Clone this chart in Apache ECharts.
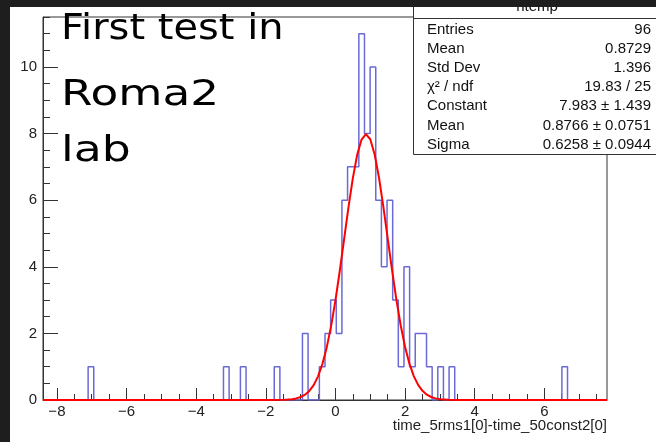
<!DOCTYPE html>
<html><head><meta charset="utf-8">
<script src="https://cdn.jsdelivr.net/npm/echarts@6/dist/echarts.min.js"></script>
<style>html,body{margin:0;padding:0;background:#1e1e1e;}#c{width:656px;height:442px;}</style>
</head><body><div id="c"></div>
<script>
// ---- data ----
const xMin = -8.4, xMax = 7.8, binWidth = 0.162;
const counts = [
  0,0,0,0,0,0,0,0,1,0,
  0,0,0,0,0,0,0,0,0,0,
  0,0,0,0,0,0,0,0,0,0,
  0,0,1,0,0,1,0,0,0,0,
  0,1,0,0,0,0,2,0,0,1,
  2,3,2,6,7,7,11,8,10,6,
  4,6,3,1,4,1,2,2,1,0,
  1,0,1,0,0,0,0,0,0,0,
  0,0,0,0,0,0,0,0,0,0,
  0,0,1,0,0,0,0,0,0,0
];
// red fit curve
const fitX = [-8.4,-2.0,-1.5,-1.375,-1.25,-1.125,-1.0,-0.875,-0.75,-0.625,-0.5,-0.375,-0.25,-0.125,0,0.125,0.25,0.375,0.5,0.625,0.75,0.875,1.0,1.125,1.25,1.375,1.5,1.625,1.75,1.875,2.0,2.125,2.25,2.375,2.5,2.625,2.75,2.875,3.0,3.25,3.5,7.8];
const fitY = [0,0,0.006,0.012,0.025,0.048,0.089,0.159,0.272,0.448,0.710,1.080,1.580,2.219,2.993,3.881,4.835,5.790,6.661,7.364,7.821,7.983,7.829,7.379,6.681,5.813,4.860,3.905,3.014,2.236,1.593,1.091,0.718,0.454,0.276,0.161,0.090,0.049,0.025,0.006,0.001,0];
const xTickLabels = [-8,-6,-4,-2,0,2,4,6];
const yTickLabels = [0,2,4,6,8,10];
const histTitle = 'htemp';
const statNames = ['Entries','Mean','Std Dev','\u03C7\u00B2 / ndf','Constant','Mean','Sigma'];
const statValues = ['96','0.8729','1.396','19.83 / 25','7.983 \u00B1 1.439','0.8766 \u00B1 0.0751','0.6258 \u00B1 0.0944'];
const xTitle = 'time_5rms1[0]-time_50const2[0]';
const overlayLines = ['First test in','Roma2','lab'];

// ---- build ----
const histData = counts.map((c,k)=>[xMin + k*binWidth, c]);
histData.push([xMax, counts[counts.length-1]]);
const fitData = fitX.map((x,i)=>[x, fitY[i]]);
const xMinor = []; for (let v=-8; v<=7.5; v+=0.5) xMinor.push(v);
const yMinor = []; for (let v=0; v<=11.5; v+=0.5) yMinor.push(v);

const FONT = 'Liberation Sans, Arial, sans-serif';
const W = 656, H = 442;
const G = {left:43, top:17, right:607, bottom:400};

const graphics = [];
// stats box
graphics.push({type:'rect', z:50, shape:{x:413.5, y:-10, width:260, height:164.5},
  style:{fill:'#fff', stroke:'#333', lineWidth:1}});
graphics.push({type:'line', z:51, shape:{x1:413.5, y1:18.5, x2:660, y2:18.5},
  style:{stroke:'#333', lineWidth:1}});
graphics.push({type:'text', z:51, x:537, y:7, style:{text:histTitle, font:'15px '+FONT, fill:'#111', align:'center', verticalAlign:'middle'}});
statNames.forEach((n,i)=>{
  const y = 29.5 + i*19.2;
  graphics.push({type:'text', z:51, x:427, y:y, style:{text:n, font:'15px '+FONT, fill:'#111', align:'left', verticalAlign:'middle'}});
  graphics.push({type:'text', z:51, x:651, y:y, style:{text:statValues[i], font:'15px '+FONT, fill:'#111', align:'right', verticalAlign:'middle'}});
});
// x axis title
graphics.push({type:'text', z:51, x:607, y:426, style:{text:xTitle, font:'15px '+FONT, fill:'#222', align:'right', verticalAlign:'middle'}});
// overlay text (wide geometric face approximated by stretching)
const ovY = [29.5, 95.5, 152];
const ovScale = [1.11, 1.26, 1.27];
overlayLines.forEach((t,i)=>{
  graphics.push({type:'text', z:60, x:61, y:ovY[i], scaleX:ovScale[i], style:{text:t, font:'36px "DejaVu Sans", sans-serif', fill:'#000', align:'left', verticalAlign:'middle'}});
});
// dark border
graphics.push({type:'rect', z:100, shape:{x:0,y:0,width:W,height:7}, style:{fill:'#1e1e1e'}});
graphics.push({type:'rect', z:100, shape:{x:0,y:0,width:10,height:H}, style:{fill:'#1e1e1e'}});

const chart = echarts.init(document.getElementById('c'), null, {renderer:'canvas'});
const labelFmt = v => (v<0 ? '\u2212'+Math.abs(v) : String(v));
chart.setOption({
  backgroundColor:'#ffffff',
  animation:false,
  grid:{left:G.left, top:G.top, right:W-G.right, bottom:H-G.bottom, show:true, borderColor:'#333', borderWidth:1, backgroundColor:'transparent', containLabel:false},
  xAxis:[
    {type:'value', min:xMin, max:xMax, position:'bottom',
     axisLine:{show:true, onZero:false, lineStyle:{color:'#333', width:1}},
     axisTick:{show:true, inside:true, length:12, customValues:xTickLabels, lineStyle:{color:'#333'}},
     axisLabel:{show:true, customValues:xTickLabels, formatter:labelFmt, fontFamily:FONT, fontSize:15, color:'#222', margin:4},
     splitLine:{show:false}},
    {type:'value', min:xMin, max:xMax, position:'bottom',
     axisLine:{show:false, onZero:false},
     axisTick:{show:true, inside:true, length:6, customValues:xMinor, lineStyle:{color:'#333'}},
     axisLabel:{show:false}, splitLine:{show:false}}
  ],
  yAxis:[
    {type:'value', min:0, max:11.5, position:'left',
     axisLine:{show:true, onZero:false, lineStyle:{color:'#333', width:1}},
     axisTick:{show:true, inside:true, length:15, customValues:yTickLabels, lineStyle:{color:'#333'}},
     axisLabel:{show:true, customValues:yTickLabels, fontFamily:FONT, fontSize:15, color:'#222', margin:6},
     splitLine:{show:false}},
    {type:'value', min:0, max:11.5, position:'left',
     axisLine:{show:false, onZero:false},
     axisTick:{show:true, inside:true, length:7, customValues:yMinor, lineStyle:{color:'#333'}},
     axisLabel:{show:false}, splitLine:{show:false}}
  ],
  series:[
    {type:'line', name:'htemp', xAxisIndex:0, yAxisIndex:0, step:'end', data:histData, showSymbol:false,
     lineStyle:{color:'#6a6ad8', width:1.5}, z:3},
    {type:'line', name:'gaus', xAxisIndex:0, yAxisIndex:0, data:fitData, smooth:false, showSymbol:false,
     lineStyle:{color:'#ff0000', width:2}, z:4}
  ],
  graphic:graphics
});
</script></body></html>
